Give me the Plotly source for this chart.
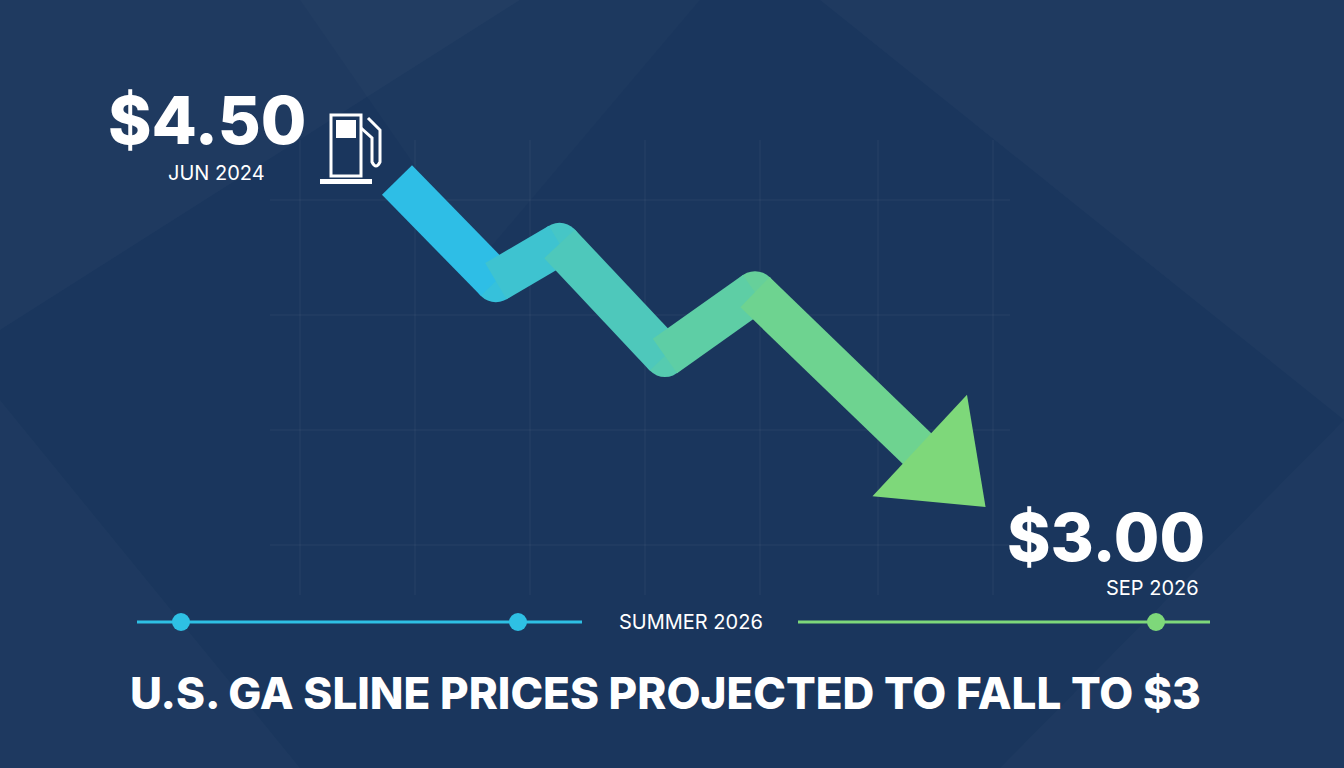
import plotly.graph_objects as go

# Data: months since Jun 2024, projected price ($/gal)
months = [0, 4.5, 7.4, 12.2, 16.3, 24.5]
prices = [4.50, 4.04, 4.21, 3.70, 3.99, 3.20]
start_label, start_date = "$4.50", "JUN 2024"
end_label, end_date = "$3.00", "SEP 2026"
mid_label = "SUMMER 2026"
title = "U.S. GA SLINE PRICES PROJECTED TO FALL TO $3"

W, H = 1344, 768
def px(x): return x / W
def py(y): return 1 - y / H

c0, c1 = (46, 190, 230), (126, 216, 122)
def mix(t):
    return "rgb(%d,%d,%d)" % tuple(round(a + (b - a) * t) for a, b in zip(c0, c1))

fig = go.Figure()
n = len(months) - 1
for i in range(1, n):
    fig.add_trace(go.Scatter(x=[months[i]], y=[prices[i]], mode="markers",
                             marker=dict(color=mix((i - 0.5) / n), size=42, symbol="circle", line=dict(width=0)),
                             hoverinfo="skip"))
for i in range(n):
    fig.add_trace(go.Scatter(x=months[i:i+2], y=prices[i:i+2], mode="lines",
                             line=dict(color=mix(i / n), width=42), hoverinfo="skip"))
fig.add_trace(go.Scatter(x=[months[-1] + 0.3], y=[prices[-1]], mode="markers",
                         marker=dict(symbol="triangle-up", size=120, angle=133, color=mix(1),
                                     line=dict(width=0)), hoverinfo="skip"))

shapes = []
for pts, op in [([(0,0),(520,0),(0,330)], 0.025), ([(820,0),(1344,0),(1344,420)], 0.025),
                ([(0,400),(300,768),(0,768)], 0.02), ([(1000,768),(1344,420),(1344,768)], 0.02),
                ([(300,0),(700,0),(480,260)], 0.015)]:
    d = "M " + " L ".join(f"{px(x)},{py(y)}" for x, y in pts) + " Z"
    shapes.append(dict(type="path", path=d, xref="paper", yref="paper",
                       fillcolor=f"rgba(255,255,255,{op})", line=dict(width=0), layer="below"))
for gx in [300, 415, 530, 645, 760, 878, 993]:
    shapes.append(dict(type="line", xref="paper", yref="paper", x0=px(gx), x1=px(gx),
                       y0=py(140), y1=py(595), line=dict(color="rgba(255,255,255,0.06)", width=1), layer="below"))
for gy in [200, 315, 430, 545]:
    shapes.append(dict(type="line", xref="paper", yref="paper", x0=px(270), x1=px(1010),
                       y0=py(gy), y1=py(gy), line=dict(color="rgba(255,255,255,0.06)", width=1), layer="below"))
shapes.append(dict(type="line", xref="paper", yref="paper", x0=px(137), x1=px(582), y0=py(622), y1=py(622),
                   line=dict(color="#2ec0e4", width=3)))
shapes.append(dict(type="line", xref="paper", yref="paper", x0=px(798), x1=px(1210), y0=py(622), y1=py(622),
                   line=dict(color="#7ed87a", width=3)))
for cx, col in [(181, "#2ec0e4"), (518, "#2ec0e4"), (1156, "#7ed87a")]:
    shapes.append(dict(type="circle", xref="paper", yref="paper", x0=px(cx-9), x1=px(cx+9),
                       y0=py(631), y1=py(613), fillcolor=col, line=dict(width=0)))
wcol = "white"
shapes += [
    dict(type="rect", xref="paper", yref="paper", x0=px(331), x1=px(361), y0=py(176), y1=py(115),
         line=dict(color=wcol, width=3), fillcolor="rgba(0,0,0,0)"),
    dict(type="rect", xref="paper", yref="paper", x0=px(336), x1=px(356), y0=py(138), y1=py(120),
         line=dict(width=0), fillcolor=wcol),
    dict(type="rect", xref="paper", yref="paper", x0=px(320), x1=px(372), y0=py(184), y1=py(179),
         line=dict(width=0), fillcolor=wcol),
    dict(type="path", xref="paper", yref="paper",
         path=f"M {px(361)},{py(128)} L {px(372)},{py(138)} L {px(372)},{py(162)} Q {px(376)},{py(170)} {px(380)},{py(162)} L {px(380)},{py(130)} L {px(368)},{py(118)}",
         line=dict(color=wcol, width=3)),
]

ann = [
    dict(x=px(207), y=py(120), text=start_label, font=dict(size=66, color="white", weight=800)),
    dict(x=px(216), y=py(173), text=start_date, font=dict(size=20, color="white")),
    dict(x=px(1106), y=py(537), text=end_label, font=dict(size=66, color="white", weight=800)),
    dict(x=px(1152), y=py(588), text=end_date, font=dict(size=20, color="white")),
    dict(x=px(691), y=py(622), text=mid_label, font=dict(size=20, color="white")),
    dict(x=px(665), y=py(693), text=title, font=dict(size=44, color="white", weight=800)),
]
for a in ann:
    a.update(xref="paper", yref="paper", showarrow=False, xanchor="center", yanchor="middle")

ppm = 593 / 27
ppu = 330 / 1.5
fig.update_layout(
    width=W, height=H, margin=dict(l=0, r=0, t=0, b=0),
    paper_bgcolor="#1a365d", plot_bgcolor="rgba(0,0,0,0)",
    showlegend=False, shapes=shapes, annotations=ann,
    font=dict(family="Inter, Roboto, sans-serif"),
    xaxis=dict(range=[-397/ppm, (W-397)/ppm], visible=False, fixedrange=True),
    yaxis=dict(range=[4.5-(H-180)/ppu, 4.5+180/ppu], visible=False, fixedrange=True),
)
fig.write_html("out.html", config={"displayModeBar": False},
               post_script="document.body.style.margin='0';document.body.style.overflow='hidden';")
